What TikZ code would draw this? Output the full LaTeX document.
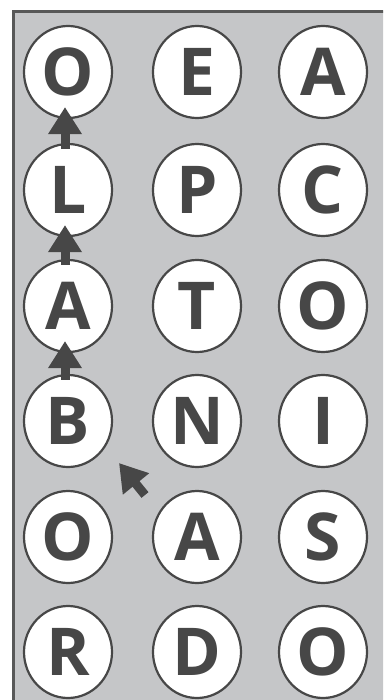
\documentclass[tikz,border=0pt]{standalone}
\usepackage{fontspec}
\setmainfont{Open Sans}
\usetikzlibrary{arrows.meta,shapes.geometric}
\definecolor{boardgray}{HTML}{C5C6C8}
\definecolor{framegray}{HTML}{585858}
\definecolor{inkgray}{HTML}{474747}
\tikzset{
  letter/.style={ellipse,draw=inkgray,line width=2.2pt,fill=white,
    minimum width=88pt,minimum height=92pt,inner sep=0pt,text=inkgray,
    font=\fontsize{66}{66}\bfseries\selectfont},
  move/.style={draw=inkgray,line width=9pt,-{Triangle[width=32pt,length=27pt]}}
}
\begin{document}
\begin{tikzpicture}[x=1pt,y=-1pt]
        \clip (0,0) rectangle (383,700);
        \fill [white] (0,0) rectangle (383,700);
        \draw [draw=framegray,line width=3pt,fill=boardgray] (13.5,11.5) rectangle (420,740);
        % board
        \node [letter] (r1c1) at (68,72) {O};
        \node [letter] (r1c2) at (197,72) {E};
        \node [letter] (r1c3) at (323,72) {A};
        \node [letter] (r2c1) at (68,190) {L};
        \node [letter] (r2c2) at (197,190) {P};
        \node [letter] (r2c3) at (323,190) {C};
        \node [letter] (r3c1) at (68,306) {A};
        \node [letter] (r3c2) at (197,306) {T};
        \node [letter] (r3c3) at (323,306) {O};
        \node [letter] (r4c1) at (68,421) {B};
        \node [letter] (r4c2) at (197,421) {N};
        \node [letter] (r4c3) at (323,421) {I};
        \node [letter] (r5c1) at (68,537) {O};
        \node [letter] (r5c2) at (197,537) {A};
        \node [letter] (r5c3) at (323,537) {S};
        \node [letter] (r6c1) at (68,652) {R};
        \node [letter] (r6c2) at (197,652) {D};
        \node [letter] (r6c3) at (323,652) {O};
        % path
        \coordinate (start) at (145,495);
        \coordinate (first) at (119,463);
        \draw [move] (start) -- (first);
        \draw [move,shorten <=-6pt,shorten >=-12pt] ([xshift=-3pt]r4c1.north) -- ([xshift=-3pt]r3c1.south);
        \draw [move,shorten <=-6pt,shorten >=-12pt] ([xshift=-3pt]r3c1.north) -- ([xshift=-3pt]r2c1.south);
        \draw [move,shorten <=-6pt,shorten >=-12pt] ([xshift=-3pt]r2c1.north) -- ([xshift=-3pt]r1c1.south);
    \end{tikzpicture}
\end{document}
